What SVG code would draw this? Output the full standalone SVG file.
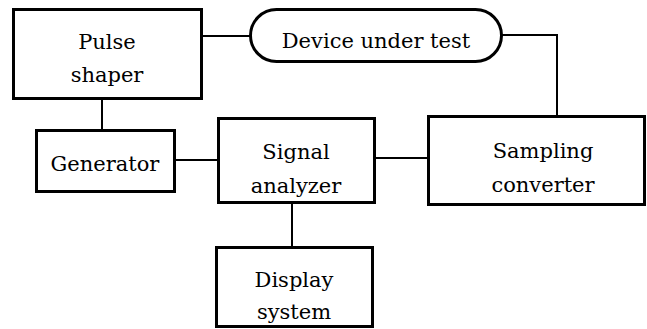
<svg xmlns="http://www.w3.org/2000/svg" width="647" height="329" viewBox="0 0 647 329">
<style>
.box{fill:#fff;stroke:#000;stroke-width:3}
.ln{fill:none;stroke:#000;stroke-width:2}
</style>
<rect width="647" height="329" fill="#fff"/>
<g id="connectors">
<line class="ln" x1="102" y1="99" x2="102" y2="130"/>
<line class="ln" x1="202" y1="36" x2="250" y2="36"/>
<polyline class="ln" points="502,35 557,35 557,116"/>
<line class="ln" x1="175" y1="160" x2="218" y2="160"/>
<line class="ln" x1="375" y1="158" x2="428" y2="158"/>
<line class="ln" x1="292" y1="203" x2="292" y2="247"/>
</g>
<g font-family="'DejaVu Serif', serif" font-size="21" text-anchor="middle" fill="#000">
<g id="pulse-shaper">
<rect class="box" x="13.5" y="9.5" width="188" height="89"/>
<text x="107" y="49">Pulse</text>
<text x="107" y="82">shaper</text>
</g>
<g id="device-under-test">
<rect class="box" x="250.5" y="9.5" width="251" height="52" rx="26" ry="26"/>
<text x="376" y="48">Device under test</text>
</g>
<g id="generator">
<rect class="box" x="36.5" y="130.5" width="138" height="61"/>
<text x="105" y="171">Generator</text>
</g>
<g id="signal-analyzer">
<rect class="box" x="218.5" y="118.5" width="156" height="84"/>
<text x="296" y="159">Signal</text>
<text x="296" y="193">analyzer</text>
</g>
<g id="sampling-converter">
<rect class="box" x="428.5" y="116.5" width="216" height="88"/>
<text x="543" y="158">Sampling</text>
<text x="543" y="192">converter</text>
</g>
<g id="display-system">
<rect class="box" x="216.5" y="247.5" width="156" height="79"/>
<text x="294" y="287">Display</text>
<text x="294" y="319">system</text>
</g>
</g>
</svg>
